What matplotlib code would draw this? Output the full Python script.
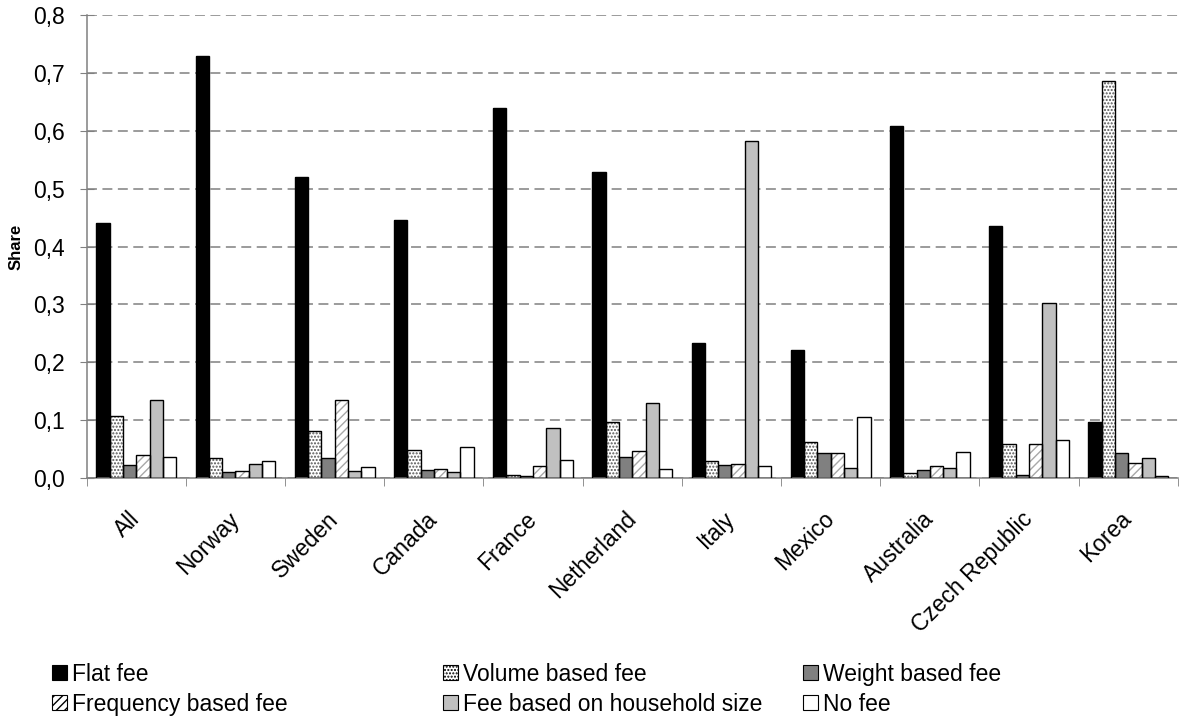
import matplotlib
matplotlib.use("Agg")
import matplotlib.pyplot as plt
import matplotlib.transforms as mtransforms
from matplotlib.patches import Patch
from matplotlib.ticker import FuncFormatter
import numpy as np

plt.rcParams['font.family'] = ['Liberation Sans', 'DejaVu Sans']
plt.rcParams['hatch.linewidth'] = 1.0

kraje = ["All", "Norway", "Sweden", "Canada", "France", "Netherland", "Italy",
         "Mexico", "Australia", "Czech Republic", "Korea"]

flat_fee = [0.440, 0.730, 0.520, 0.445, 0.640, 0.528, 0.233, 0.221, 0.609, 0.436, 0.096]
volume_fee = [0.108, 0.035, 0.082, 0.048, 0.005, 0.096, 0.029, 0.062, 0.009, 0.058, 0.686]
weight_fee = [0.023, 0.010, 0.035, 0.014, 0.003, 0.037, 0.022, 0.044, 0.014, 0.005, 0.044]
frequency_fee = [0.039, 0.013, 0.135, 0.016, 0.021, 0.046, 0.025, 0.044, 0.020, 0.058, 0.026]
household_fee = [0.135, 0.025, 0.013, 0.010, 0.086, 0.130, 0.582, 0.018, 0.017, 0.302, 0.035]
no_fee = [0.037, 0.030, 0.019, 0.054, 0.031, 0.015, 0.020, 0.106, 0.045, 0.066, 0.003]

serie = [
    ("Flat fee", flat_fee, "black", None, "black"),
    ("Volume based fee", volume_fee, "white", ".....", "#555555"),
    ("Weight based fee", weight_fee, "#808080", None, "#808080"),
    ("Frequency based fee", frequency_fee, "white", "////", "#a8a8a8"),
    ("Fee based on household size", household_fee, "#c0c0c0", None, "#c0c0c0"),
    ("No fee", no_fee, "white", None, "white"),
]

fig = plt.figure(figsize=(11.79, 7.17), dpi=100)
ax = fig.add_axes([0.0735, 0.3333, 0.9255, 0.6457])

x = np.arange(len(kraje))
szer = 0.134
n = len(serie)

uchwyty = []
for i, (nazwa, wartosci, kolor, hatch, kolor_hatch) in enumerate(serie):
    pozycje = x - szer * n / 2 + szer * (i + 0.5)
    # wypelnienie z deseniem, potem czarny kontur na wierzchu
    ax.bar(pozycje, wartosci, szer, color=kolor, hatch=hatch,
           edgecolor=kolor_hatch, linewidth=0, zorder=2)
    ax.bar(pozycje, wartosci, szer, fill=False, edgecolor="black",
           linewidth=1.0, zorder=3)
    uchwyty.append(Patch(facecolor=kolor, hatch=hatch, edgecolor="black",
                         linewidth=0.8, label=nazwa))

ax.set_xlim(-0.5, len(kraje) - 0.5)
ax.set_ylim(0, 0.8)
ax.set_yticks(np.arange(0, 0.81, 0.1))
ax.yaxis.set_major_formatter(FuncFormatter(lambda v, p: f"{v:.1f}".replace(".", ",")))

ax.set_xticks(x)
ax.set_xticklabels(kraje, rotation=45, ha="right", va="center", rotation_mode="anchor",
                   fontsize=16.5)
przesuniecie = mtransforms.ScaledTranslation(-3 / 100, 0, fig.dpi_scale_trans)
for etykieta in ax.get_xticklabels():
    etykieta.set_transform(etykieta.get_transform() + przesuniecie)
ax.set_xticks(np.arange(-0.5, len(kraje)), minor=True)
ax.tick_params(axis="x", which="major", length=0, pad=27)
ax.tick_params(axis="x", which="minor", length=6, color="#808080", direction="out")
ax.tick_params(axis="y", length=10, color="#808080", labelsize=16.5,
               direction="inout", pad=10.5)

ax.grid(axis="y", color="#808080", linestyle=(0, (6.5, 3.6)), linewidth=1.1, zorder=0)
ax.set_axisbelow(True)
for s in ["top", "right"]:
    ax.spines[s].set_visible(False)
for s in ["left", "bottom"]:
    ax.spines[s].set_color("#808080")
    ax.spines[s].set_linewidth(1.1)

ax.set_ylabel("Share", fontsize=12, fontweight="bold", labelpad=7)

# legenda w trzech kolumnach pod wykresem
kolumny_x = [0.044, 0.3757, 0.681]
for k in range(3):
    fig.legend(handles=[uchwyty[k], uchwyty[k + 3]], loc="upper left",
               bbox_to_anchor=(kolumny_x[k], 0.076), frameon=False,
               fontsize=16.5, handlelength=0.64, handleheight=0.64,
               handletextpad=0.25, labelspacing=0.32, borderpad=0, borderaxespad=0)

fig.savefig("out.png", dpi=100)
